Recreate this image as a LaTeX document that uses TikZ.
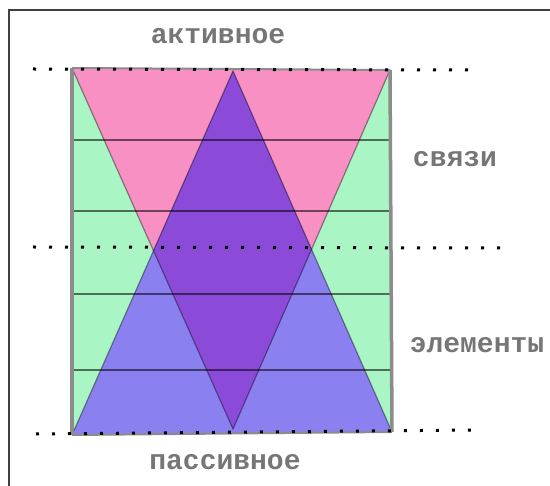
\documentclass[tikz,border=0pt]{standalone}
\usepackage{fontspec}
\setmonofont{Liberation Mono}
\usetikzlibrary{positioning}
\definecolor{fieldgreen}{RGB}{170,245,196}
\definecolor{activepink}{RGB}{249,144,196}
\definecolor{passiveblue}{RGB}{138,128,240}
\definecolor{mixpurple}{RGB}{139,75,216}
\definecolor{wordgray}{RGB}{118,118,118}

\begin{document}
\begin{tikzpicture}[
    x=1pt, y=-1pt,
    word/.style={font=\ttfamily\bfseries\fontsize{28}{30}\selectfont, text=wordgray, inner sep=0pt, anchor=base},
    frameline/.style={draw=black!75, line width=2pt},
    side/.style={draw=black!45, line width=3.5pt},
    rim/.style={draw=black!45, line width=2pt},
    edge/.style={draw=black, draw opacity=0.4, line width=1.2pt},
    rung/.style={draw=black, draw opacity=0.55, line width=1.3pt},
    dots/.style={draw=black, line width=3pt, dash pattern=on 3pt off 13pt}
]
\useasboundingbox (0,0) rectangle (550,486);
% frame
\draw[frameline] (9,486) -- (9,10) -- (550,10);
% corners of the field
\coordinate (tl) at (72,68);
\coordinate (tr) at (390,70);
\coordinate (bl) at (72,435);
\coordinate (br) at (392,432);
\coordinate (pinkapex) at (233,429);
\coordinate (blueapex) at (233,71);
\coordinate (lcross) at (intersection of tl--pinkapex and bl--blueapex);
\coordinate (rcross) at (intersection of tr--pinkapex and br--blueapex);
% fills
\fill[fieldgreen] (tl) -- (tr) -- (br) -- (bl) -- cycle;
\fill[activepink] (tl) -- (tr) -- (pinkapex) -- cycle;
\fill[passiveblue] (bl) -- (br) -- (blueapex) -- cycle;
\fill[mixpurple] (blueapex) -- (rcross) -- (pinkapex) -- (lcross) -- cycle;
% triangle edges
\draw[edge] (tl) -- (pinkapex) -- (tr);
\draw[edge] (bl) -- (blueapex) -- (br);
% levels
\foreach \y in {140,211,294,370}
    \draw[rung] (72,\y) -- (391,\y);
% sides of the field
\draw[rim] (tl) -- (tr);
\draw[rim] (bl) -- (br);
\draw[side] (tl) -- (bl);
\draw[side] (tr) -- (br);
% dotted levels
\coordinate (topa) at (33,69);
\coordinate (topb) at (476,70);
\coordinate (mida) at (33,247);
\coordinate (midb) at (500,248);
\coordinate (bota) at (36,434);
\coordinate (botb) at (476,430);
\draw[dots] (topa) -- (topb);
\draw[dots] (mida) -- (midb);
\draw[dots] (bota) -- (botb);
% words
\node[word] (active) at (218,44) {активное};
\node[word] (links) at (455,167) {связи};
\node[word] (elements) at (477,353) {элементы};
\node[word] (passive) at (225,470) {пассивное};
\end{tikzpicture}
\end{document}
